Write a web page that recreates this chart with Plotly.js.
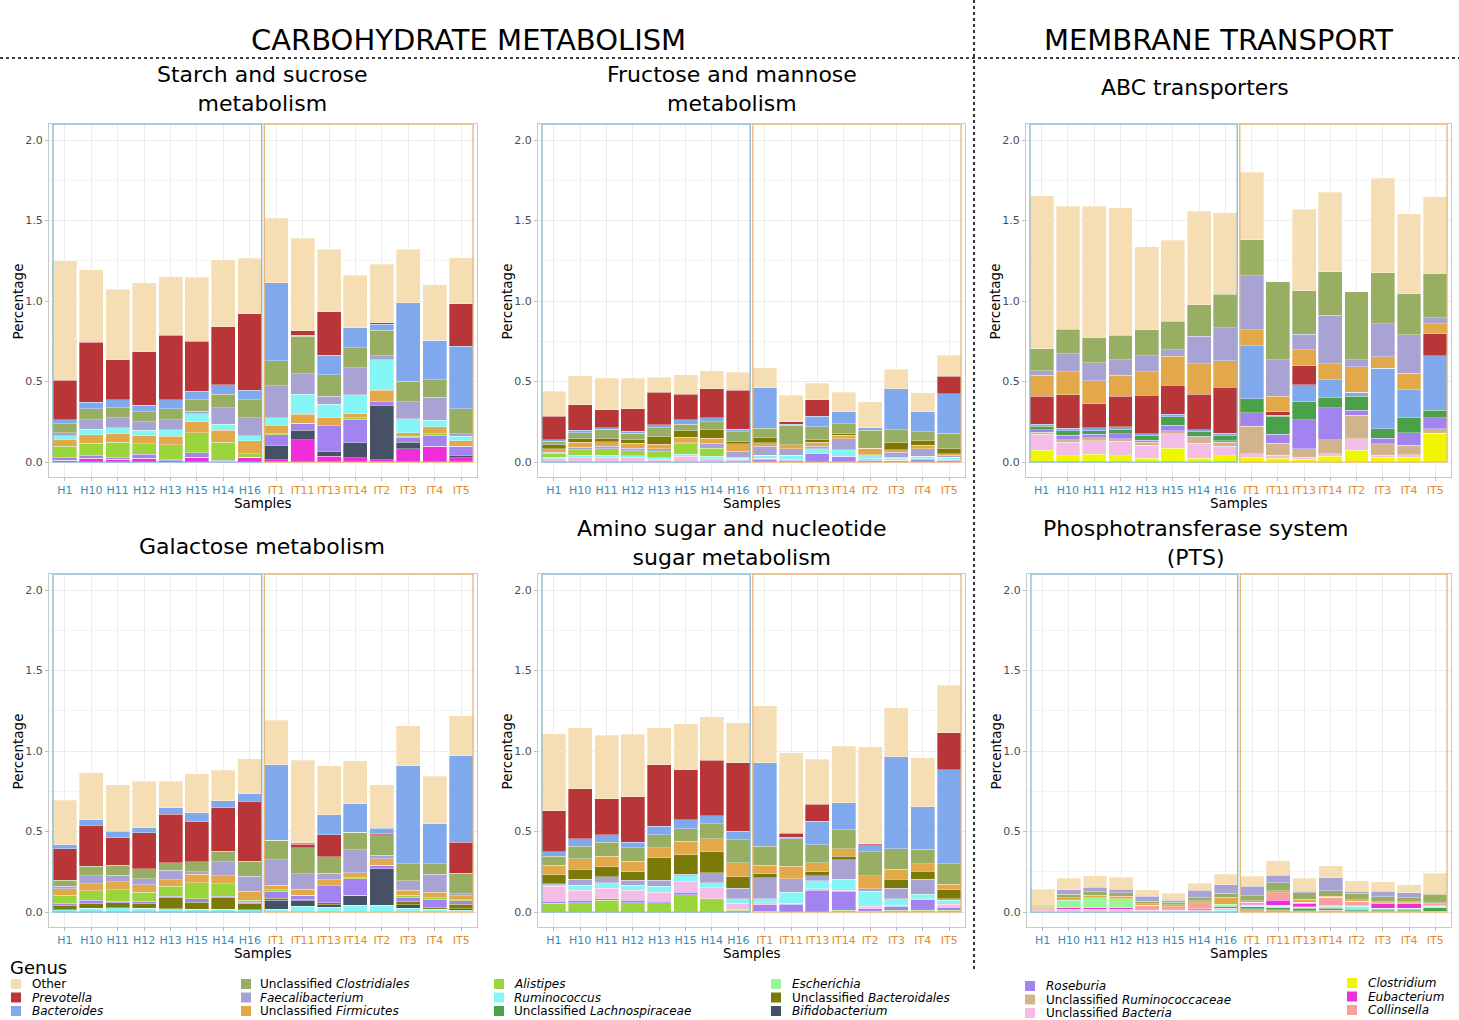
<!DOCTYPE html>
<html><head><meta charset="utf-8">
<script src="https://cdn.plot.ly/plotly-3.0.1.min.js"></script>
<style>body{margin:0;background:#fff}#chart{width:1459px;height:1020px}</style>
</head><body><div id="chart"></div>
<script>
const samples = ['H1','H10','H11','H12','H13','H15','H14','H16','IT1','IT11','IT13','IT14','IT2','IT3','IT4','IT5'];
const healthySamples = ['H1','H10','H11','H12','H13','H15','H14','H16'];
const ibdSamples = ['IT1','IT11','IT13','IT14','IT2','IT3','IT4','IT5'];
const healthyColor = '#3a8db3';
const ibdColor = '#e08b2c';

const genera = ['Other','Prevotella','Bacteroides','Unclassified Clostridiales','Faecalibacterium','Unclassified Firmicutes',
  'Alistipes','Ruminococcus','Unclassified Lachnospiraceae','Escherichia','Unclassified Bacteroidales','Bifidobacterium',
  'Roseburia','Unclassified Ruminococcaceae','Unclassified Bacteria','Clostridium','Eubacterium','Collinsella'];
const genusLabels = ['Other','<i>Prevotella</i>','<i>Bacteroides</i>','Unclassified <i>Clostridiales</i>','<i>Faecalibacterium</i>','Unclassified <i>Firmicutes</i>',
  '<i>Alistipes</i>','<i>Ruminococcus</i>','Unclassified <i>Lachnospiraceae</i>','<i>Escherichia</i>','Unclassified <i>Bacteroidales</i>','<i>Bifidobacterium</i>',
  '<i>Roseburia</i>','Unclassified <i>Ruminococcaceae</i>','Unclassified <i>Bacteria</i>','<i>Clostridium</i>','<i>Eubacterium</i>','<i>Collinsella</i>'];
const genusColors = ['#F5DEB3','#B83638','#80A8EC','#97AE63','#A9A3D3','#E3A849',
  '#9BD53C','#86F5F5','#4BA04A','#98F898','#7B7A06','#465166',
  '#A283F0','#D2B48C','#F3BDE5','#EEF600','#ED2ED9','#FA9E9E'];

// ---- Starch and sucrose metabolism (bottom -> top) ----
const starch_Eubacterium      = [0.012,0.022,0.017,0.022,0.008,0.031,0.005,0.031, 0.015,0.139,0.035,0.027,0.015,0.083,0.099,0.027];
const starch_Bifidobacterium  = [0,0,0,0,0,0,0,0, 0.089,0.058,0.031,0.093,0.337,0.041,0,0.014];
const starch_Roseburia        = [0.015,0.019,0.014,0.026,0.007,0.027,0.005,0, 0.066,0.045,0.158,0.143,0.021,0.027,0.065,0.056];
const starch_Alistipes        = [0.07,0.077,0.093,0.066,0.093,0.124,0.114,0.021, 0.006,0,0,0.011,0,0.009,0.012,0];
const starch_Firmicutes       = [0.045,0.052,0.052,0.048,0.052,0.067,0.073,0.079, 0.052,0.054,0.05,0.026,0.073,0.022,0.042,0.034];
const starch_Ruminococcus     = [0.02,0.035,0.037,0.035,0.041,0.051,0.037,0.031, 0.046,0.125,0.085,0.119,0.19,0.087,0.041,0.029];
const starch_Faecalibacterium = [0.02,0.058,0.061,0.052,0.062,0.017,0.104,0.114, 0.199,0.128,0.051,0.168,0.023,0.104,0.145,0.016];
const starch_Clostridiales    = [0.055,0.067,0.064,0.062,0.067,0.071,0.083,0.112, 0.155,0.232,0.131,0.122,0.16,0.129,0.108,0.156];
const starch_Bacteroides      = [0.025,0.041,0.05,0.041,0.058,0.051,0.06,0.058, 0.487,0.007,0.122,0.126,0.037,0.487,0.244,0.387];
const starch_Prevotella       = [0.245,0.373,0.248,0.332,0.4,0.311,0.358,0.476, 0,0.027,0.272,0,0.008,0,0,0.265];
const starch_Other            = [0.745,0.452,0.438,0.431,0.364,0.398,0.419,0.344, 0.398,0.574,0.387,0.326,0.365,0.333,0.344,0.284];

// ---- Fructose and mannose metabolism ----
const fructose_Roseburia        = [0.004,0.006,0.005,0.005,0.004,0.006,0.004,0.004, 0.018,0.01,0.052,0.037,0.01,0.008,0.017,0.012];
const fructose_Bacteria         = [0.017,0.022,0.025,0.022,0.012,0.029,0.017,0.012, 0.005,0.005,0,0,0.011,0.004,0.004,0.005];
const fructose_Ruminococcus     = [0.008,0.013,0.012,0.012,0.01,0.013,0.014,0.008, 0.018,0.026,0.031,0.04,0.025,0.013,0.016,0.014];
const fructose_Alistipes        = [0.026,0.036,0.041,0.032,0.038,0.066,0.052,0.007, 0,0,0,0,0,0.005,0,0];
const fructose_Faecalibacterium = [0.005,0.016,0.015,0.014,0.02,0.006,0.031,0.035, 0.058,0.042,0.014,0.068,0,0.032,0.046,0.01];
const fructose_Firmicutes       = [0.024,0.031,0.027,0.033,0.025,0.035,0.031,0.048, 0.021,0.025,0.027,0.021,0.041,0.015,0.021,0.01];
const fructose_Bacteroidales    = [0.024,0.025,0.024,0.021,0.048,0.038,0.054,0.014, 0.031,0,0.015,0.01,0,0.047,0.031,0.035];
const fructose_Clostridiales    = [0.02,0.033,0.054,0.041,0.056,0.041,0.046,0.059, 0.06,0.12,0.079,0.062,0.11,0.077,0.052,0.093];
const fructose_Bacteroides      = [0.011,0.015,0.01,0.011,0.019,0.029,0.025,0.016, 0.249,0.006,0.066,0.073,0.016,0.255,0.124,0.245];
const fructose_Prevotella       = [0.145,0.159,0.112,0.141,0.203,0.158,0.182,0.243, 0,0.015,0.104,0,0,0,0,0.108];
const fructose_Other            = [0.156,0.179,0.197,0.19,0.093,0.122,0.11,0.112, 0.127,0.166,0.103,0.124,0.16,0.12,0.12,0.131];

// ---- ABC transporters ----
const abc_Clostridium      = [0.073,0.04,0.048,0.04,0.025,0.087,0.025,0.04, 0.031,0.025,0.017,0.035,0.073,0.031,0.031,0.18];
const abc_Bacteria         = [0.1,0.084,0.083,0.088,0.079,0.089,0.093,0.057, 0.021,0.016,0.014,0.017,0.072,0.01,0.015,0];
const abc_Ruminococcaceae  = [0.012,0.015,0.02,0.017,0.02,0.017,0.033,0.027, 0.17,0.077,0.052,0.087,0.145,0.073,0.058,0.027];
const abc_Roseburia        = [0.015,0.027,0.021,0.031,0.01,0.035,0.009,0.008, 0.085,0.054,0.18,0.197,0.031,0.035,0.078,0.069];
const abc_Lachnospiraceae  = [0.022,0.027,0.021,0.027,0.028,0.052,0.027,0.031, 0.087,0.112,0.114,0.062,0.087,0.058,0.092,0.045];
const abc_Bacteroides      = [0.012,0.018,0.02,0.015,0.014,0.016,0.014,0.017, 0.327,0.006,0.104,0.114,0.027,0.377,0.176,0.338];
const abc_Prevotella       = [0.176,0.208,0.15,0.19,0.239,0.181,0.22,0.286, 0,0.021,0.116,0,0,0,0,0.139];
const abc_Firmicutes       = [0.13,0.141,0.141,0.131,0.145,0.18,0.19,0.162, 0.102,0.097,0.101,0.099,0.156,0.069,0.103,0.062];
const abc_Faecalibacterium = [0.028,0.114,0.114,0.097,0.099,0.041,0.17,0.207, 0.333,0.228,0.096,0.301,0.045,0.207,0.239,0.037];
const abc_Clostridiales    = [0.135,0.151,0.153,0.152,0.164,0.177,0.197,0.207, 0.226,0.483,0.269,0.269,0.421,0.317,0.255,0.274];
const abc_Other            = [0.952,0.765,0.819,0.791,0.514,0.503,0.581,0.506, 0.417,0,0.508,0.494,0,0.585,0.497,0.477];

// ---- Galactose metabolism ----
const galactose_Ruminococcus     = [0.015,0.025,0.027,0.025,0.021,0.017,0.017,0.015, 0.017,0.037,0.031,0.041,0.041,0.025,0.017,0.01];
const galactose_Bifidobacterium  = [0,0,0,0,0,0,0,0, 0.056,0.036,0.015,0.063,0.228,0.021,0,0.011];
const galactose_Bacteroidales    = [0.026,0.031,0.031,0.027,0.068,0.045,0.072,0.041, 0.014,0.005,0.012,0,0,0.02,0.014,0.027];
const galactose_Roseburia        = [0.015,0.017,0.01,0.014,0.01,0.021,0.008,0.004, 0.041,0.026,0.104,0.103,0.021,0.027,0.048,0.021];
const galactose_Alistipes        = [0.048,0.058,0.071,0.058,0.061,0.099,0.079,0.013, 0.011,0,0,0.006,0,0.01,0.01,0.006];
const galactose_Firmicutes       = [0.041,0.045,0.048,0.046,0.041,0.052,0.048,0.055, 0.027,0.037,0.039,0.032,0.042,0.031,0.035,0.025];
const galactose_Faecalibacterium = [0.015,0.048,0.041,0.037,0.058,0.015,0.087,0.094, 0.159,0.097,0.039,0.143,0.02,0.059,0.11,0.014];
const galactose_Clostridiales    = [0.037,0.06,0.062,0.062,0.048,0.062,0.066,0.095, 0.121,0.162,0.104,0.109,0.129,0.107,0.066,0.128];
const galactose_Prevotella       = [0.197,0.255,0.172,0.224,0.3,0.249,0.27,0.371, 0,0.021,0.135,0,0.006,0,0,0.193];
const galactose_Bacteroides      = [0.025,0.035,0.04,0.031,0.042,0.058,0.043,0.048, 0.47,0.01,0.124,0.177,0.035,0.608,0.249,0.535];
const galactose_Other            = [0.275,0.292,0.29,0.288,0.163,0.242,0.191,0.217, 0.276,0.512,0.305,0.265,0.27,0.249,0.295,0.249];

// ---- Amino sugar and nucleotide sugar metabolism ----
const amino_Alistipes        = [0.056,0.058,0.073,0.058,0.058,0.108,0.077,0.012, 0.006,0,0,0.01,0.006,0.01,0.01,0.01];
const amino_Roseburia        = [0.01,0.015,0.01,0.015,0.008,0.016,0.006,0.003, 0.04,0.048,0.135,0.118,0.015,0.025,0.066,0.021];
const amino_Bacteria         = [0.094,0.062,0.066,0.062,0.058,0.063,0.068,0.041, 0.012,0.008,0.01,0.007,0.016,0.006,0.007,0.017];
const amino_Ruminococcus     = [0.01,0.031,0.033,0.031,0.036,0.037,0.031,0.027, 0.025,0.068,0.048,0.068,0.091,0.042,0.027,0.025];
const amino_Faecalibacterium = [0.006,0.037,0.036,0.031,0.037,0.01,0.063,0.066, 0.13,0.083,0.031,0.122,0.017,0.066,0.093,0.01];
const amino_Bacteroidales    = [0.056,0.062,0.062,0.052,0.139,0.122,0.128,0.069, 0.025,0,0.025,0.021,0,0.054,0.05,0.056];
const amino_Firmicutes       = [0.058,0.067,0.066,0.066,0.064,0.083,0.083,0.087, 0.052,0.077,0.058,0.048,0.079,0.062,0.047,0.033];
const amino_Clostridiales    = [0.056,0.078,0.089,0.083,0.081,0.079,0.093,0.145, 0.118,0.172,0.112,0.118,0.149,0.129,0.09,0.128];
const amino_Bacteroides      = [0.027,0.046,0.046,0.037,0.052,0.056,0.048,0.052, 0.52,0.01,0.145,0.166,0.045,0.57,0.263,0.585];
const amino_Prevotella       = [0.255,0.311,0.224,0.28,0.383,0.311,0.346,0.424, 0,0.025,0.105,0,0.006,0,0,0.23];
const amino_Other            = [0.481,0.379,0.393,0.388,0.23,0.286,0.269,0.249, 0.353,0.498,0.28,0.352,0.602,0.306,0.305,0.294];

// ---- Phosphotransferase system (PTS) ----
const pts_Ruminococcaceae  = [0.002,0.002,0.002,0.002,0.002,0.002,0.002,0.002, 0.019,0.014,0.008,0.012,0.008,0.008,0.008,0.006];
const pts_Lachnospiraceae  = [0,0.002,0.002,0.002,0.001,0.001,0.001,0.002, 0.014,0.013,0.014,0.013,0.009,0.008,0.008,0.021];
const pts_Ruminococcus     = [0.003,0.002,0.002,0.002,0.003,0.003,0.004,0.008, 0.004,0.01,0.008,0.012,0.02,0.007,0.007,0.01];
const pts_Bacteria         = [0.008,0.012,0.012,0.012,0.006,0.006,0.006,0.012, 0.004,0.006,0.003,0.002,0.002,0,0,0.002];
const pts_Eubacterium      = [0.004,0.01,0.011,0.011,0.005,0.004,0.006,0.008, 0.008,0.031,0.019,0.004,0.004,0.027,0.027,0.002];
const pts_Collinsella      = [0.002,0,0,0,0.024,0.017,0.039,0.002, 0.012,0.047,0.008,0.048,0.025,0.008,0.008,0.009];
const pts_Escherichia      = [0.002,0.046,0.06,0.052,0,0,0,0.013, 0,0,0,0,0,0,0,0];
const pts_Firmicutes       = [0.008,0.015,0.015,0.018,0.009,0.013,0.012,0.045, 0.008,0.011,0.019,0.008,0.007,0.006,0.006,0.008];
const pts_Clostridiales    = [0.008,0.021,0.022,0.021,0.018,0.016,0.019,0.025, 0.031,0.051,0.041,0.033,0.041,0.031,0.025,0.052];
const pts_Faecalibacterium = [0.006,0.027,0.027,0.021,0.031,0.01,0.046,0.053, 0.06,0.046,0.008,0.08,0.014,0.035,0.031,0.006];
const pts_Other            = [0.1,0.072,0.073,0.074,0.04,0.046,0.043,0.064, 0.063,0.089,0.081,0.077,0.063,0.058,0.048,0.124];

const W = 1459, H = 1020;
const px = v => v / W;
const py = v => 1 - v / H;

const panels = [
  {title:'Starch and sucrose<br>metabolism', tx:262, ty:89, box:[49,477,124,477], stack:[
    ['Eubacterium',starch_Eubacterium],['Bifidobacterium',starch_Bifidobacterium],['Roseburia',starch_Roseburia],
    ['Alistipes',starch_Alistipes],['Unclassified Firmicutes',starch_Firmicutes],['Ruminococcus',starch_Ruminococcus],
    ['Faecalibacterium',starch_Faecalibacterium],['Unclassified Clostridiales',starch_Clostridiales],
    ['Bacteroides',starch_Bacteroides],['Prevotella',starch_Prevotella],['Other',starch_Other]]},
  {title:'Fructose and mannose<br>metabolism', tx:732, ty:89, box:[538,965,124,477], stack:[
    ['Roseburia',fructose_Roseburia],['Unclassified Bacteria',fructose_Bacteria],['Ruminococcus',fructose_Ruminococcus],
    ['Alistipes',fructose_Alistipes],['Faecalibacterium',fructose_Faecalibacterium],['Unclassified Firmicutes',fructose_Firmicutes],
    ['Unclassified Bacteroidales',fructose_Bacteroidales],['Unclassified Clostridiales',fructose_Clostridiales],
    ['Bacteroides',fructose_Bacteroides],['Prevotella',fructose_Prevotella],['Other',fructose_Other]]},
  {title:'ABC transporters', tx:1195, ty:87, box:[1026,1451,124,477], stack:[
    ['Clostridium',abc_Clostridium],['Unclassified Bacteria',abc_Bacteria],['Unclassified Ruminococcaceae',abc_Ruminococcaceae],
    ['Roseburia',abc_Roseburia],['Unclassified Lachnospiraceae',abc_Lachnospiraceae],['Bacteroides',abc_Bacteroides],
    ['Prevotella',abc_Prevotella],['Unclassified Firmicutes',abc_Firmicutes],['Faecalibacterium',abc_Faecalibacterium],
    ['Unclassified Clostridiales',abc_Clostridiales],['Other',abc_Other]]},
  {title:'Galactose metabolism', tx:262, ty:546, box:[49,477,574,927], stack:[
    ['Ruminococcus',galactose_Ruminococcus],['Bifidobacterium',galactose_Bifidobacterium],['Unclassified Bacteroidales',galactose_Bacteroidales],
    ['Roseburia',galactose_Roseburia],['Alistipes',galactose_Alistipes],['Unclassified Firmicutes',galactose_Firmicutes],
    ['Faecalibacterium',galactose_Faecalibacterium],['Unclassified Clostridiales',galactose_Clostridiales],
    ['Prevotella',galactose_Prevotella],['Bacteroides',galactose_Bacteroides],['Other',galactose_Other]]},
  {title:'Amino sugar and nucleotide<br>sugar metabolism', tx:732, ty:543, box:[538,965,574,927], stack:[
    ['Alistipes',amino_Alistipes],['Roseburia',amino_Roseburia],['Unclassified Bacteria',amino_Bacteria],
    ['Ruminococcus',amino_Ruminococcus],['Faecalibacterium',amino_Faecalibacterium],['Unclassified Bacteroidales',amino_Bacteroidales],
    ['Unclassified Firmicutes',amino_Firmicutes],['Unclassified Clostridiales',amino_Clostridiales],
    ['Bacteroides',amino_Bacteroides],['Prevotella',amino_Prevotella],['Other',amino_Other]]},
  {title:'Phosphotransferase system<br>(PTS)', tx:1195, ty:543, box:[1027,1451,574,927], stack:[
    ['Unclassified Ruminococcaceae',pts_Ruminococcaceae],['Unclassified Lachnospiraceae',pts_Lachnospiraceae],['Ruminococcus',pts_Ruminococcus],
    ['Unclassified Bacteria',pts_Bacteria],['Eubacterium',pts_Eubacterium],['Collinsella',pts_Collinsella],
    ['Escherichia',pts_Escherichia],['Unclassified Firmicutes',pts_Firmicutes],['Unclassified Clostridiales',pts_Clostridiales],
    ['Faecalibacterium',pts_Faecalibacterium],['Other',pts_Other]]}
];

const FONT = 'DejaVu Sans, Arial, sans-serif';
const YMIN = -0.093, YMAX = 2.1;
const traces = [];
const layout = {
  width: W, height: H, autosize: false,
  margin: {l:0, r:0, t:0, b:0},
  paper_bgcolor: '#fff', plot_bgcolor: '#fff',
  barmode: 'stack', bargap: 0.09,
  showlegend: false,
  font: {family: FONT, color: '#000'},
  shapes: [], annotations: []
};

const tickText = samples.map(s => '<span style="color:' + (healthySamples.includes(s) ? healthyColor : ibdColor) + '">' + s + '</span>');

panels.forEach((p, i) => {
  const n = i === 0 ? '' : String(i + 1);
  const xr = 'x' + n, yr = 'y' + n;
  p.stack.forEach(([g, vals]) => {
    traces.push({
      type: 'bar', x: samples, y: vals, name: g,
      xaxis: xr, yaxis: yr,
      marker: {color: genusColors[genera.indexOf(g)], line: {color: 'rgba(255,255,255,0.55)', width: 0.6}},
      hovertemplate: '%{x}<br>' + g + ': %{y:.3f}<extra></extra>'
    });
  });
  const [x0, x1, yt, yb] = p.box;
  layout['xaxis' + n] = {
    domain: [px(x0), px(x1)], anchor: yr, type: 'category',
    categoryorder: 'array', categoryarray: samples,
    range: [-0.6, samples.length - 0.4],
    tickmode: 'array', tickvals: samples, ticktext: tickText,
    tickfont: {size: 11, family: FONT},
    ticks: 'outside', ticklen: 3, tickcolor: '#bdbdbd',
    showgrid: true, gridcolor: '#ebebeb', gridwidth: 1,
    showline: true, linecolor: '#c8c8c8', linewidth: 1, mirror: true,
    zeroline: false, fixedrange: true
  };
  layout['yaxis' + n] = {
    domain: [py(yb), py(yt)], anchor: xr,
    range: [YMIN, YMAX], tick0: 0, dtick: 0.5, tickformat: '.1f',
    tickfont: {size: 11, color: '#4d4d4d', family: FONT},
    ticks: 'outside', ticklen: 3, tickcolor: '#bdbdbd',
    showgrid: true, gridcolor: '#ebebeb', gridwidth: 1,
    minor: {dtick: 0.25, tick0: 0, showgrid: true, gridcolor: '#f4f4f4', gridwidth: 1, ticks: ''},
    showline: true, linecolor: '#c8c8c8', linewidth: 1, mirror: true,
    zeroline: false, fixedrange: true
  };
  // group outline boxes (healthy / IBD)
  const hA = samples.indexOf(healthySamples[0]) - 0.45, hB = samples.indexOf(healthySamples[healthySamples.length-1]) + 0.45;
  const iA = samples.indexOf(ibdSamples[0]) - 0.45, iB = samples.indexOf(ibdSamples[ibdSamples.length-1]) + 0.45;
  layout.shapes.push({type:'rect', xref:xr, yref:yr, x0:hA, x1:hB, y0:0, y1:YMAX, line:{color:'#86b8cb', width:1.3}, fillcolor:'rgba(0,0,0,0)', layer:'above'});
  layout.shapes.push({type:'rect', xref:xr, yref:yr, x0:iA, x1:iB, y0:0, y1:YMAX, line:{color:'#e6b679', width:1.3}, fillcolor:'rgba(0,0,0,0)', layer:'above'});
  // panel title
  layout.annotations.push({text: p.title, xref:'paper', yref:'paper', x: px(p.tx), y: py(p.ty), xanchor:'center', yanchor:'middle',
    showarrow:false, font:{size:22, family:FONT, color:'#000'}});
  // axis titles
  layout.annotations.push({text:'Samples', xref:'paper', yref:'paper', x: px((x0 + x1) / 2), y: py(yb + 26), xanchor:'center', yanchor:'middle',
    showarrow:false, font:{size:13.5, family:FONT, color:'#000'}});
  layout.annotations.push({text:'Percentage', xref:'paper', yref:'paper', x: px(x0 - 32), y: py((yt + yb) / 2 + 1), xanchor:'center', yanchor:'middle',
    textangle:-90, showarrow:false, font:{size:13.5, family:FONT, color:'#000'}});
});

// section headings and dotted separators
layout.annotations.push({text:'CARBOHYDRATE METABOLISM', xref:'paper', yref:'paper', x:px(468), y:py(40), xanchor:'center', yanchor:'middle',
  showarrow:false, font:{size:29, family:FONT, color:'#000'}});
layout.annotations.push({text:'MEMBRANE TRANSPORT', xref:'paper', yref:'paper', x:px(1218), y:py(40), xanchor:'center', yanchor:'middle',
  showarrow:false, font:{size:29, family:FONT, color:'#000'}});
layout.shapes.push({type:'line', xref:'paper', yref:'paper', x0:0, x1:1, y0:py(58), y1:py(58), line:{color:'#000', width:1.6, dash:'dot'}});
layout.shapes.push({type:'line', xref:'paper', yref:'paper', x0:px(974), x1:px(974), y0:py(0), y1:py(970), line:{color:'#000', width:1.6, dash:'dot'}});

// legend (manual, 6 columns x 3 rows)
layout.annotations.push({text:'Genus', xref:'paper', yref:'paper', x:px(8), y:py(967), xanchor:'left', yanchor:'middle',
  showarrow:false, font:{size:18, family:FONT, color:'#000'}});
const legendCols = [[11,30,984],[241,258,984],[494,512,984],[771,790,984],[1025,1044,986],[1347,1366,983]];
genera.forEach((g, k) => {
  const c = Math.floor(k / 3), r = k % 3;
  const [sx, tx, y0] = legendCols[c];
  const yy = y0 + r * 13.5;
  layout.shapes.push({type:'rect', xref:'paper', yref:'paper', x0:px(sx), x1:px(sx + 10), y0:py(yy + 5), y1:py(yy - 5),
    fillcolor: genusColors[k], line:{width:0}});
  layout.annotations.push({text: genusLabels[k], xref:'paper', yref:'paper', x:px(tx), y:py(yy), xanchor:'left', yanchor:'middle',
    showarrow:false, font:{size:12, family:FONT, color:'#000'}});
});

Plotly.newPlot('chart', traces, layout, {displayModeBar:false, staticPlot:true});
</script>
</body></html>
